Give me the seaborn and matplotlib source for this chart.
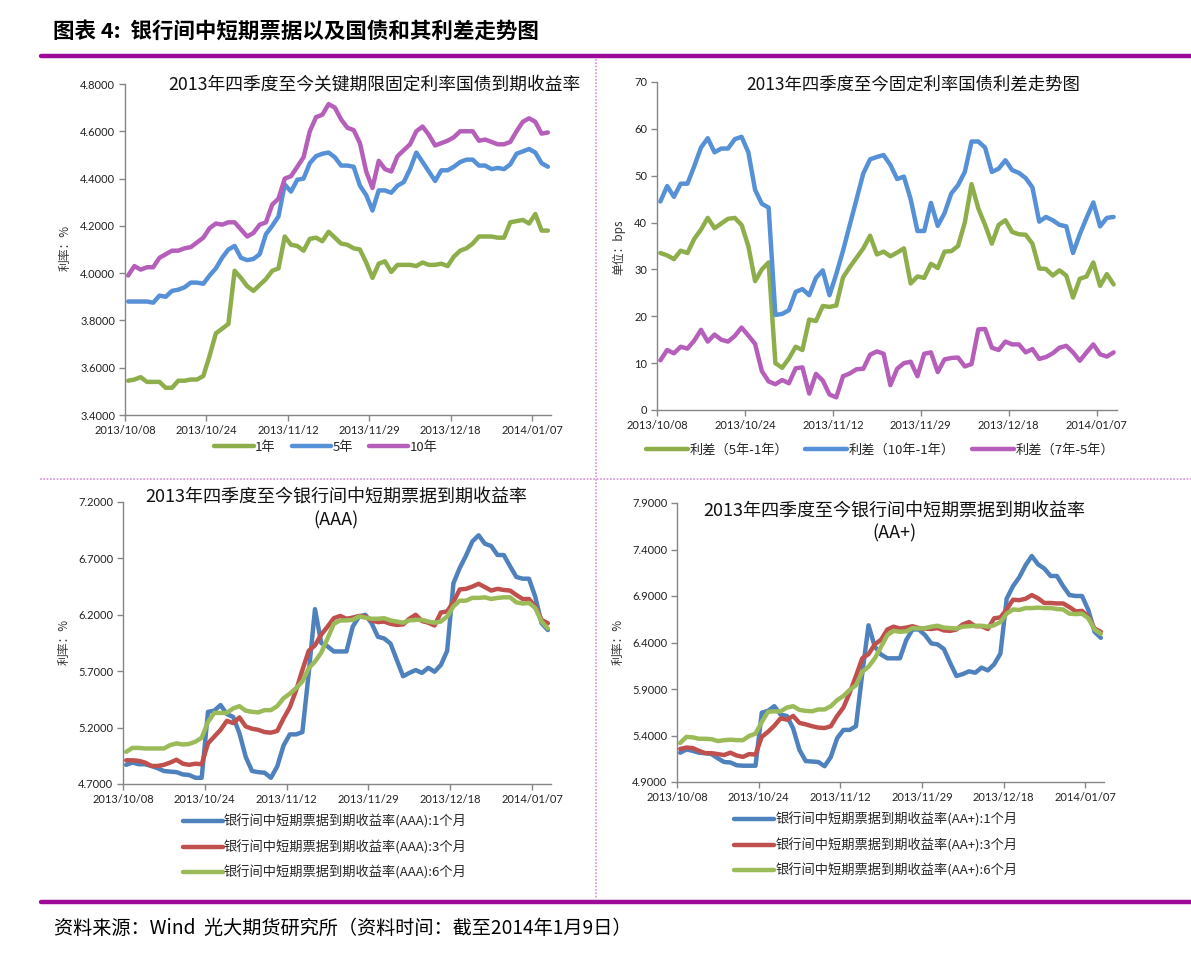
import numpy as np
import matplotlib
matplotlib.use("Agg")
import matplotlib.pyplot as plt
import seaborn as sns

# ------------------------------
# Data (68 trading days, 2013/10/08 - 2014/01/09)
# ------------------------------
tick_labels = ["2013/10/08", "2013/10/24", "2013/11/12", "2013/11/29", "2013/12/18", "2014/01/07"]

# panel 1: bond yields (%)
bond_1y = [3.545, 3.55, 3.56, 3.54, 3.54, 3.54, 3.515, 3.515, 3.545, 3.545,
           3.55, 3.55, 3.565, 3.65, 3.745, 3.765, 3.785, 4.01, 3.98, 3.945,
           3.925, 3.95, 3.975, 4.01, 4.02, 4.155, 4.12, 4.115, 4.095, 4.145,
           4.15, 4.135, 4.175, 4.15, 4.125, 4.12, 4.105, 4.1, 4.045, 3.98,
           4.04, 4.05, 4.005, 4.035, 4.035, 4.035, 4.03, 4.045, 4.035, 4.035,
           4.04, 4.03, 4.07, 4.095, 4.105, 4.125, 4.155, 4.155, 4.155, 4.15,
           4.15, 4.215, 4.22, 4.225, 4.21, 4.25, 4.18, 4.18]
bond_5y = [3.88, 3.88, 3.88, 3.88, 3.875, 3.905, 3.90, 3.925, 3.93, 3.94,
           3.96, 3.96, 3.955, 3.99, 4.02, 4.065, 4.10, 4.115, 4.065, 4.055,
           4.06, 4.08, 4.165, 4.20, 4.24, 4.375, 4.345, 4.395, 4.40, 4.465,
           4.495, 4.505, 4.51, 4.49, 4.455, 4.455, 4.45, 4.37, 4.33, 4.265,
           4.35, 4.35, 4.34, 4.37, 4.385, 4.44, 4.51, 4.47, 4.43, 4.39,
           4.435, 4.435, 4.45, 4.47, 4.48, 4.48, 4.455, 4.455, 4.44, 4.445,
           4.44, 4.46, 4.505, 4.515, 4.525, 4.51, 4.465, 4.45]
bond_10y = [3.99, 4.03, 4.015, 4.025, 4.025, 4.065, 4.08, 4.095, 4.095, 4.105,
            4.11, 4.13, 4.15, 4.19, 4.21, 4.205, 4.215, 4.215, 4.185, 4.155,
            4.17, 4.205, 4.215, 4.29, 4.315, 4.40, 4.41, 4.45, 4.49, 4.60,
            4.66, 4.67, 4.715, 4.70, 4.65, 4.615, 4.605, 4.55, 4.43, 4.36,
            4.475, 4.44, 4.43, 4.495, 4.52, 4.545, 4.60, 4.62, 4.585, 4.54,
            4.55, 4.56, 4.575, 4.60, 4.60, 4.60, 4.56, 4.565, 4.555, 4.545,
            4.545, 4.555, 4.60, 4.64, 4.655, 4.64, 4.59, 4.595]

# panel 2: spreads (bps)
spread_5_1 = [33.5, 33, 32.2, 34, 33.5, 36.5, 38.5, 41, 38.8, 39.8,
              40.8, 41, 39.5, 35, 27.5, 30, 31.5, 10, 9, 11,
              13.5, 12.8, 19.3, 19, 22.2, 22, 22.3, 28.3, 30.5, 32.5,
              34.5, 37.2, 33.2, 33.8, 32.8, 33.6, 34.5, 27, 28.5, 28.2,
              31.2, 30.3, 33.8, 33.9, 35, 40, 48.2, 43, 39.5, 35.5,
              39.5, 40.5, 38, 37.5, 37.4, 35.5, 30.2, 30.1, 28.7, 29.8,
              28.7, 24, 28, 28.5, 31.5, 26.5, 29, 26.8]
spread_10_1 = [44.5, 47.8, 45.5, 48.3, 48.3, 52, 56, 58, 55, 55.8,
               55.8, 57.8, 58.3, 55, 47, 44, 43.2, 20.3, 20.5, 21.3,
               25.2, 25.8, 24.5, 28.2, 29.8, 24.5, 29, 34, 39.5, 45,
               50.5, 53.5, 54, 54.4, 52.3, 49.3, 49.8, 45, 38.2, 38.2,
               44.2, 39.3, 42, 46.2, 48, 50.8, 57.3, 57.3, 56, 50.8,
               51.5, 53.3, 51.2, 50.6, 49.5, 47.5, 40.2, 41.2, 40.5, 39.5,
               39.2, 33.5, 37.5, 41, 44.3, 39.2, 41, 41.2]
spread_7_5 = [10.6, 12.8, 12.1, 13.5, 13.1, 14.8, 17.1, 14.6, 16.1, 15,
              14.6, 15.8, 17.6, 15.9, 14.1, 8.3, 6.1, 5.5, 6.4, 5.7,
              8.9, 9.1, 3.5, 7.7, 6.3, 3.3, 2.7, 7.2, 7.8, 8.7,
              8.8, 11.8, 12.5, 12, 5.3, 8.8, 10, 10.3, 7.2, 12,
              12.3, 8.1, 10.8, 11.1, 11.2, 9.3, 9.8, 17.2, 17.3, 13.3,
              12.8, 14.6, 14, 14, 12.3, 13, 10.9, 11.3, 12.1, 13.3,
              13.7, 12.3, 10.5, 12.3, 14, 11.9, 11.4, 12.3]

# panel 3: AAA notes (%)
aaa_1m = [4.87, 4.89, 4.875, 4.875, 4.86, 4.84, 4.815, 4.81, 4.805, 4.785,
          4.78, 4.755, 4.755, 5.34, 5.35, 5.40, 5.32, 5.295, 5.15, 4.94,
          4.815, 4.805, 4.80, 4.755, 4.855, 5.04, 5.14, 5.14, 5.16, 5.68,
          6.25, 5.95, 5.92, 5.875, 5.875, 5.875, 6.095, 6.185, 6.20, 6.125,
          6.005, 5.99, 5.945, 5.80, 5.655, 5.685, 5.71, 5.685, 5.73, 5.695,
          5.755, 5.88, 6.48, 6.615, 6.725, 6.85, 6.905, 6.83, 6.81, 6.73,
          6.73, 6.63, 6.535, 6.52, 6.52, 6.36, 6.125, 6.065]
aaa_3m = [4.91, 4.91, 4.905, 4.89, 4.86, 4.86, 4.87, 4.89, 4.915, 4.88,
          4.87, 4.88, 4.875, 5.06, 5.12, 5.18, 5.26, 5.24, 5.29, 5.21,
          5.19, 5.18, 5.16, 5.155, 5.17, 5.28, 5.38, 5.53, 5.71, 5.88,
          5.93, 6.025, 6.095, 6.17, 6.19, 6.165, 6.175, 6.19, 6.185, 6.15,
          6.135, 6.14, 6.12, 6.11, 6.115, 6.165, 6.20, 6.145, 6.13, 6.105,
          6.22, 6.23, 6.315, 6.425, 6.43, 6.45, 6.475, 6.445, 6.415, 6.43,
          6.42, 6.415, 6.375, 6.34, 6.34, 6.275, 6.155, 6.125]
aaa_6m = [4.985, 5.02, 5.02, 5.015, 5.015, 5.015, 5.015, 5.045, 5.06, 5.05,
          5.055, 5.075, 5.11, 5.25, 5.33, 5.33, 5.33, 5.37, 5.39, 5.35,
          5.34, 5.335, 5.355, 5.355, 5.39, 5.46, 5.50, 5.55, 5.61, 5.725,
          5.785, 5.865, 5.99, 6.12, 6.15, 6.15, 6.155, 6.185, 6.175, 6.165,
          6.165, 6.17, 6.15, 6.14, 6.13, 6.15, 6.155, 6.155, 6.14, 6.13,
          6.14, 6.185, 6.275, 6.325, 6.325, 6.35, 6.35, 6.355, 6.34, 6.35,
          6.355, 6.355, 6.31, 6.30, 6.305, 6.26, 6.14, 6.08]

# panel 4: AA+ notes (%)
aap_1m = [5.215, 5.25, 5.235, 5.215, 5.21, 5.20, 5.155, 5.115, 5.11, 5.08,
          5.075, 5.075, 5.075, 5.645, 5.665, 5.715, 5.625, 5.61, 5.475, 5.245,
          5.125, 5.12, 5.115, 5.07, 5.17, 5.37, 5.46, 5.46, 5.50, 6.065,
          6.585, 6.355, 6.27, 6.23, 6.23, 6.23, 6.425, 6.54, 6.54, 6.48,
          6.39, 6.38, 6.33, 6.18, 6.04, 6.06, 6.09, 6.075, 6.13, 6.10,
          6.165, 6.28, 6.87, 7.005, 7.10, 7.23, 7.33, 7.24, 7.195, 7.115,
          7.115, 7.005, 6.91, 6.90, 6.90, 6.75, 6.515, 6.45]
aap_3m = [5.255, 5.27, 5.265, 5.235, 5.21, 5.21, 5.20, 5.19, 5.215, 5.185,
          5.17, 5.20, 5.195, 5.385, 5.44, 5.505, 5.585, 5.57, 5.61, 5.535,
          5.52, 5.50, 5.485, 5.48, 5.50, 5.61, 5.70, 5.86, 6.04, 6.23,
          6.275, 6.38, 6.43, 6.54, 6.57, 6.55, 6.56, 6.575, 6.555, 6.55,
          6.545, 6.555, 6.53, 6.525, 6.54, 6.595, 6.62, 6.575, 6.575, 6.545,
          6.66, 6.67, 6.755, 6.86, 6.855, 6.87, 6.91, 6.875, 6.825, 6.825,
          6.82, 6.82, 6.78, 6.735, 6.74, 6.675, 6.55, 6.515]
aap_6m = [5.32, 5.385, 5.38, 5.365, 5.365, 5.36, 5.34, 5.35, 5.355, 5.35,
          5.35, 5.395, 5.42, 5.545, 5.655, 5.66, 5.66, 5.70, 5.715, 5.675,
          5.665, 5.66, 5.68, 5.68, 5.715, 5.78, 5.825, 5.89, 5.94, 6.085,
          6.14, 6.23, 6.355, 6.48, 6.525, 6.515, 6.52, 6.555, 6.55, 6.555,
          6.57, 6.58, 6.56, 6.555, 6.55, 6.57, 6.575, 6.58, 6.58, 6.57,
          6.585, 6.62, 6.71, 6.755, 6.75, 6.77, 6.77, 6.775, 6.77, 6.77,
          6.76, 6.755, 6.71, 6.705, 6.71, 6.66, 6.54, 6.495]

# ------------------------------
# Style
# ------------------------------
sns.set_theme(style="white")
plt.rcParams["font.family"] = ["Lato", "Noto Sans CJK SC", "DejaVu Sans"]
CJK = ["Noto Sans CJK SC", "DejaVu Sans"]

GREEN = "#8DAE4A"
BLUE = "#5690D6"
PURPLE = "#B65FBA"
BLUE2 = "#4F81BD"
RED = "#C0504D"
GREEN2 = "#9BBB59"
AXCOL = "#868686"

W, H = 1191, 960
fig = plt.figure(figsize=(W / 100, H / 100), dpi=100)


def box(l, t, r, b):
    return [l / W, 1 - b / H, (r - l) / W, (b - t) / H]


def fxy(x, y):
    return (x / W, 1 - y / H)


def draw_panel(rect, series, ylim, ystep, yfmt):
    ax = fig.add_axes(rect)
    n = len(series[0][1])
    x = np.arange(n)
    for name, vals, col in series:
        sns.lineplot(x=x, y=vals, ax=ax, color=col, linewidth=3.2, label=name,
                     solid_capstyle="round", solid_joinstyle="round")
    ax.set_xlim(-0.5, n - 0.5)
    ax.set_ylim(*ylim)
    ax.set_yticks(np.arange(ylim[0], ylim[1] + ystep / 2, ystep))
    ax.yaxis.set_major_formatter(matplotlib.ticker.FormatStrFormatter(yfmt))
    ax.set_xticks(np.arange(-0.5, n, 13))
    ax.set_xticklabels(tick_labels)
    ax.tick_params(axis="both", direction="out", length=4, width=1, color=AXCOL,
                   labelsize=8, labelcolor="#222222", pad=3)
    ax.tick_params(axis="both", which="both", left=True, bottom=True)
    for s in ["top", "right"]:
        ax.spines[s].set_visible(False)
    for s in ["left", "bottom"]:
        ax.spines[s].set_color(AXCOL)
        ax.spines[s].set_linewidth(1)
    ax.set_xlabel("")
    ax.set_ylabel("")
    if ax.get_legend():
        ax.get_legend().remove()
    return ax


# ------------------------------
# 1. Key-tenor treasury yields
# ------------------------------
ax1 = draw_panel(box(125, 84, 551, 415),
                 [("1年", bond_1y, GREEN), ("5年", bond_5y, BLUE), ("10年", bond_10y, PURPLE)],
                 (3.4, 4.8), 0.2, "%.4f")
fig.text(*fxy(374, 85), "2013年四季度至今关键期限固定利率国债到期收益率", family=CJK,
         fontsize=12.8, ha="center", va="center", color="#111111")
fig.text(*fxy(65, 248), "利率：%", family=CJK, fontsize=8.5, rotation=90,
         ha="center", va="center", color="#333333")
ax1.legend(loc="center", bbox_to_anchor=fxy(326, 447), bbox_transform=fig.transFigure,
           ncol=3, frameon=False, prop={"family": CJK, "size": 9.5},
           handlelength=3.0, handletextpad=0.1, columnspacing=1.2, borderpad=0)

# ------------------------------
# 2. Treasury spreads
# ------------------------------
ax2 = draw_panel(box(657, 82, 1117, 410),
                 [("利差（5年-1年）", spread_5_1, GREEN), ("利差（10年-1年）", spread_10_1, BLUE),
                  ("利差（7年-5年）", spread_7_5, PURPLE)],
                 (0, 70), 10, "%d")
fig.text(*fxy(913, 85), "2013年四季度至今固定利率国债利差走势图", family=CJK,
         fontsize=12.5, ha="center", va="center", color="#111111")
fig.text(*fxy(619, 247), "单位：bps", family=CJK, fontsize=8.5, rotation=90,
         ha="center", va="center", color="#333333")
ax2.legend(loc="center", bbox_to_anchor=fxy(880, 450), bbox_transform=fig.transFigure,
           ncol=3, frameon=False, prop={"family": CJK, "size": 9.5},
           handlelength=3.2, handletextpad=0.1, columnspacing=1.3, borderpad=0)

# ------------------------------
# 3. Interbank notes (AAA)
# ------------------------------
ax3 = draw_panel(box(123, 502, 551, 784),
                 [("银行间中短期票据到期收益率(AAA):1个月", aaa_1m, BLUE2),
                  ("银行间中短期票据到期收益率(AAA):3个月", aaa_3m, RED),
                  ("银行间中短期票据到期收益率(AAA):6个月", aaa_6m, GREEN2)],
                 (4.7, 7.2), 0.5, "%.4f")
fig.text(*fxy(336, 497), "2013年四季度至今银行间中短期票据到期收益率", family=CJK,
         fontsize=13, ha="center", va="center", color="#111111")
fig.text(*fxy(336, 520), "(AAA)", family=CJK, fontsize=13, ha="center", va="center",
         color="#111111")
fig.text(*fxy(64, 642), "利率：%", family=CJK, fontsize=8.5, rotation=90,
         ha="center", va="center", color="#333333")
ax3.legend(loc="center", bbox_to_anchor=fxy(325, 847), bbox_transform=fig.transFigure,
           ncol=1, frameon=False, prop={"family": CJK, "size": 9.5},
           handlelength=3.0, handletextpad=0.1, labelspacing=0.85, borderpad=0)

# ------------------------------
# 4. Interbank notes (AA+)
# ------------------------------
ax4 = draw_panel(box(677, 503, 1104, 782),
                 [("银行间中短期票据到期收益率(AA+):1个月", aap_1m, BLUE2),
                  ("银行间中短期票据到期收益率(AA+):3个月", aap_3m, RED),
                  ("银行间中短期票据到期收益率(AA+):6个月", aap_6m, GREEN2)],
                 (4.9, 7.9), 0.5, "%.4f")
fig.text(*fxy(894, 511), "2013年四季度至今银行间中短期票据到期收益率", family=CJK,
         fontsize=13, ha="center", va="center", color="#111111")
fig.text(*fxy(894, 533), "(AA+)", family=CJK, fontsize=13, ha="center", va="center",
         color="#111111")
fig.text(*fxy(618, 642), "利率：%", family=CJK, fontsize=8.5, rotation=90,
         ha="center", va="center", color="#333333")
ax4.legend(loc="center", bbox_to_anchor=fxy(876, 845), bbox_transform=fig.transFigure,
           ncol=1, frameon=False, prop={"family": CJK, "size": 9.5},
           handlelength=3.0, handletextpad=0.1, labelspacing=0.85, borderpad=0)

# ------------------------------
# Page furniture: header, rules, separators, source
# ------------------------------
fig.text(*fxy(53, 31), "图表 4:  银行间中短期票据以及国债和其利差走势图", family=CJK,
         fontsize=15.5, fontweight="bold", ha="left", va="center", color="#000000")
fig.add_artist(matplotlib.lines.Line2D([41 / W, 1], [1 - 56 / H] * 2, color="#9E0A98", lw=3.2))
fig.add_artist(matplotlib.lines.Line2D([41 / W, 1], [1 - 902 / H] * 2, color="#9E0A98", lw=3.2))
fig.add_artist(matplotlib.lines.Line2D([596 / W] * 2, [1 - 59 / H, 1 - 899 / H],
                                       color="#DA8FDA", lw=1.2, ls=(0, (1, 1))))
fig.add_artist(matplotlib.lines.Line2D([40 / W, 1], [1 - 479 / H] * 2,
                                       color="#DA8FDA", lw=1.2, ls=(0, (1, 1))))
fig.text(*fxy(54, 928), "资料来源：Wind  光大期货研究所（资料时间：截至2014年1月9日）",
         family=CJK, fontsize=13.8, ha="left", va="center", color="#000000")

fig.savefig("out.png", dpi=100)
